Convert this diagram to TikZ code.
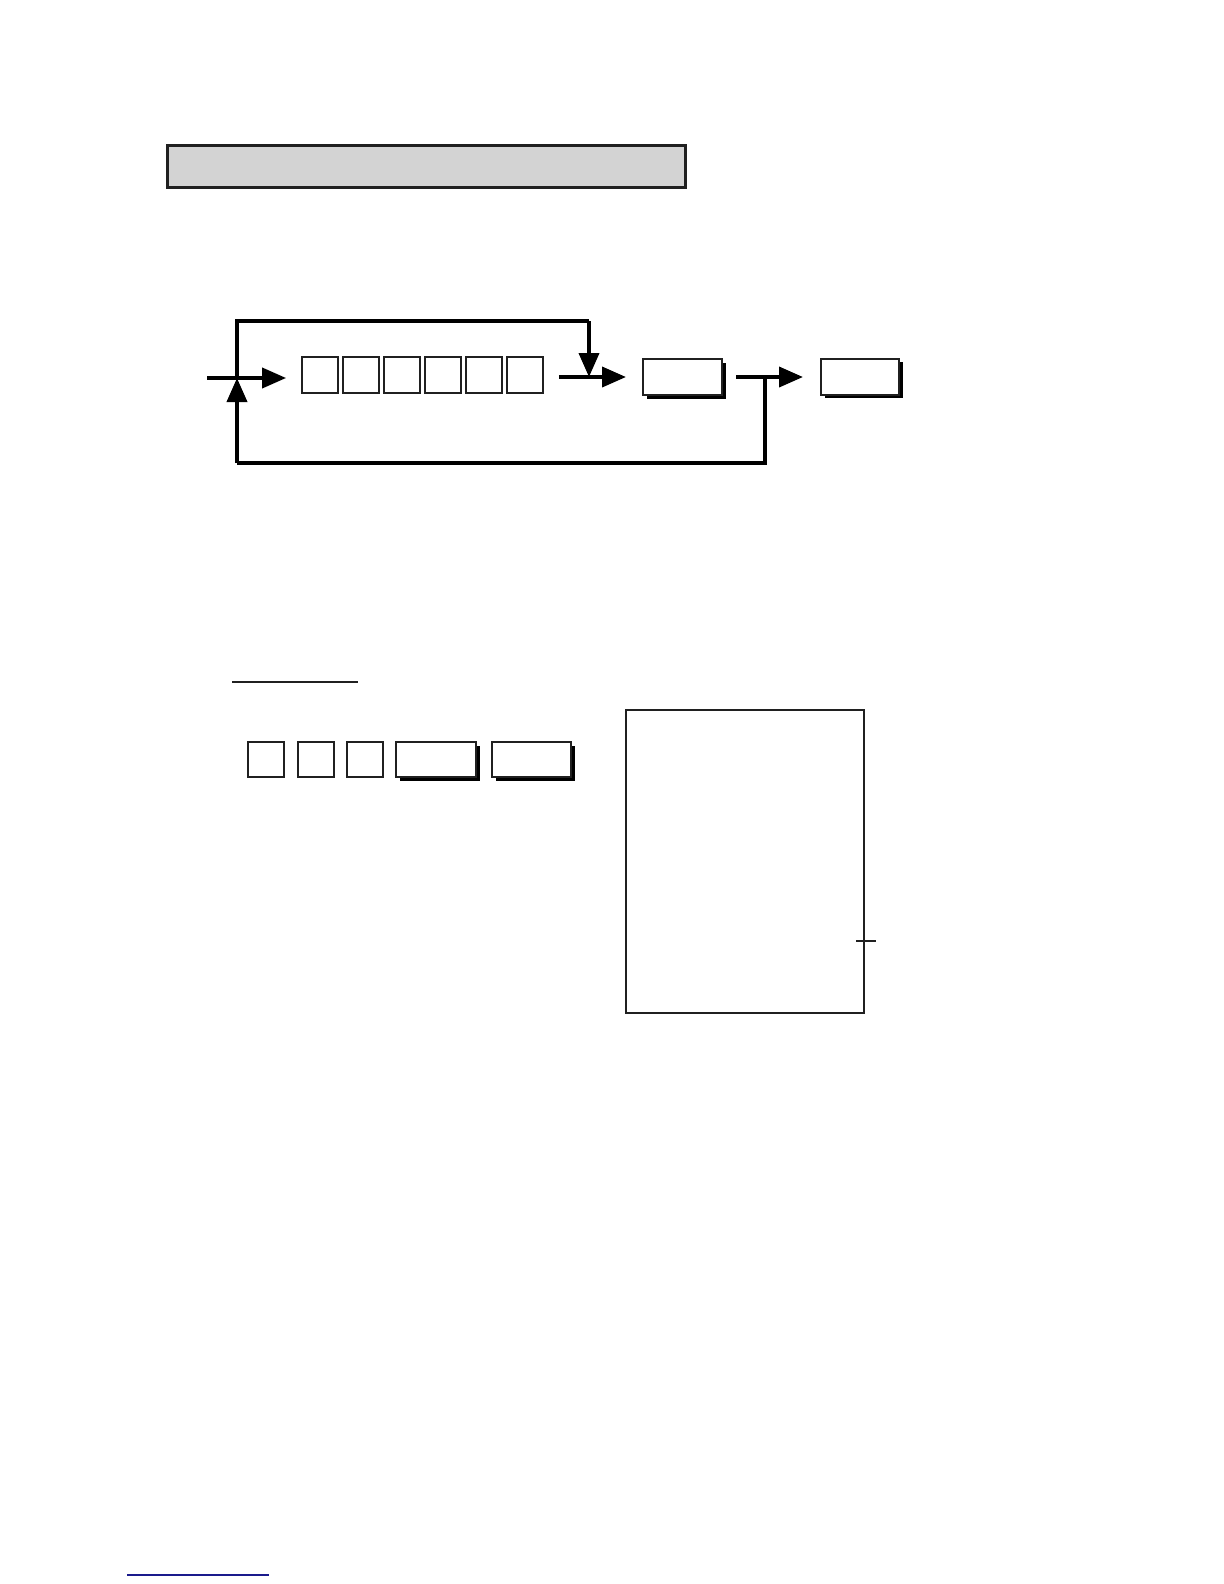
\documentclass[tikz,border=0pt]{standalone}
\usetikzlibrary{arrows.meta,shadows}
\definecolor{ink}{HTML}{202020}
\definecolor{hdrfill}{HTML}{D3D3D3}
\definecolor{linkblue}{HTML}{1A1A8C}
\tikzset{
  flow/.style={draw=black, line width=1.9pt, line join=miter, -{Triangle[length=12pt,width=10pt]}},
  plain/.style={draw=black, line width=1.9pt, line join=miter},
  keysq/.style={draw=ink, fill=white, line width=0.9pt, inner sep=0pt, minimum width=18pt, minimum height=18pt},
  keybox/.style={draw=ink, fill=white, line width=1pt, inner sep=0pt, minimum height=18pt,
     drop shadow={shadow xshift=1.8pt, shadow yshift=-1.8pt, fill=black, opacity=1}},
}
\begin{document}
\begin{tikzpicture}[x=0.5pt,y=-0.5pt]
\useasboundingbox (0,0) rectangle (1224,1584);

% header bar
\node[draw=ink, fill=hdrfill, line width=1.5pt, inner sep=0pt, minimum width=259pt, minimum height=21pt] (header) at (426,166) {};

% top flow
\foreach \i/\x in {1/320,2/361,3/402,4/443,5/484,6/525}{
  \node[keysq] (sq\i) at (\x,375) {};
}
\node[keybox, minimum width=39.5pt] (b1) at (682.5,377) {};
\node[keybox, minimum width=39pt] (b2) at (860,376.5) {};

\coordinate (in) at (207,378);
\coordinate (j1) at (237,378);
\coordinate (tl) at (237,321);
\coordinate (tr) at (589,321);
\coordinate (j2) at (589,377);
\coordinate (j3) at (765,377);
\coordinate (bl) at (237,463);
\coordinate (br) at (765,463);

\draw[flow] (in) -- ([xshift=-7.5pt]sq1.west |- in);
\draw[plain] (j1) -- (tl) -- (tr);
\draw[flow] (tr) -- (j2);
\draw[flow] ([xshift=7.5pt]sq6.east |- j2) -- ([xshift=-8pt]b1.west |- j2);
\draw[flow] ([xshift=6.5pt]b1.east |- j3) -- ([xshift=-8.5pt]b2.west |- j3);
\draw[plain] (j3) -- (br) -- (bl);
\draw[flow] (bl) -- (j1);

% example section
\coordinate (ul1) at (232,682);
\coordinate (ul2) at (358,682);
\draw[draw=ink, line width=0.6pt] (ul1) -- (ul2);

\node[keysq, line width=1pt, minimum height=17.5pt] (k1) at (266,759.5) {};
\node[keysq, line width=1pt, minimum height=17.5pt] (k2) at (315.5,759.5) {};
\node[keysq, line width=1pt, minimum height=17.5pt] (k3) at (364.5,759.5) {};
\node[keybox, minimum width=40pt, minimum height=17.5pt] (k4) at (436,759.5) {};
\node[keybox, minimum width=39.5pt, minimum height=17.5pt] (k5) at (531.5,759.5) {};

% receipt
\node[draw=ink, line width=1.3pt, inner sep=0pt, minimum width=119pt, minimum height=151.5pt] (rcpt) at (745,861.5) {};
\coordinate (t1) at (856,941);
\coordinate (t2) at (876,941);
\draw[draw=ink, line width=0.6pt] (t1) -- (t2);

% footer rule
\coordinate (f1) at (127,1575);
\coordinate (f2) at (269,1575);
\draw[draw=linkblue, line width=0.8pt] (f1) -- (f2);
\end{tikzpicture}
\end{document}
